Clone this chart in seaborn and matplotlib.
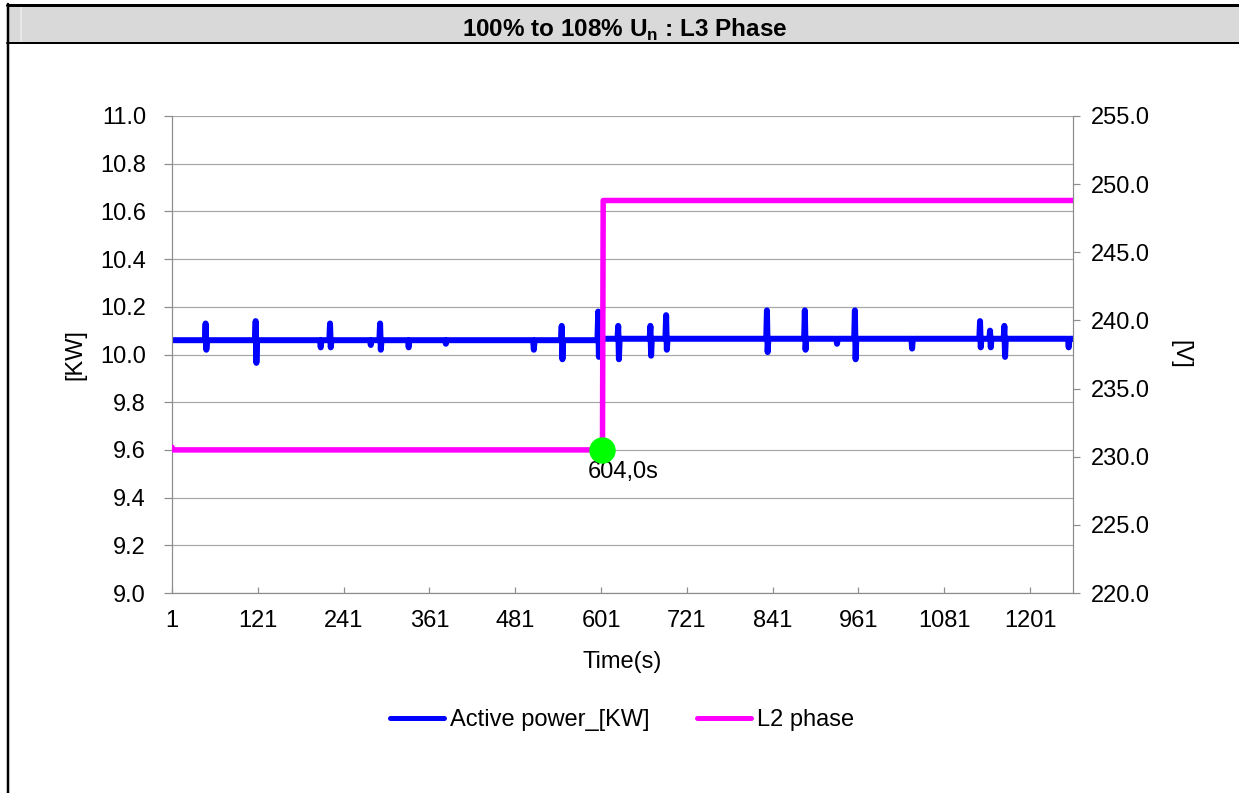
import numpy as np
import pandas as pd
import matplotlib
matplotlib.use("Agg")
import matplotlib.pyplot as plt
import seaborn as sns
from matplotlib.lines import Line2D
from matplotlib.patches import Rectangle

# ---------------- data ----------------
N_SAMPLES = 1261
x_tick_values = [1, 121, 241, 361, 481, 601, 721, 841, 961, 1081, 1201]
left_ticks = [9.0, 9.2, 9.4, 9.6, 9.8, 10.0, 10.2, 10.4, 10.6, 10.8, 11.0]
right_ticks = [220.0, 225.0, 230.0, 235.0, 240.0, 245.0, 250.0, 255.0]

# active power: flat baseline segments (start, end, kW)
power_baseline = [(1, 600, 10.060), (601, 1261, 10.066)]
# short spikes: time, peak value (None = no peak), dip value (None = no dip)
spike_time = [48, 118, 208, 222, 278, 292, 331, 383, 506, 546, 597, 625,
              670, 692, 833, 886, 930, 956, 1035, 1131, 1145, 1165, 1254]
spike_high = [10.13, 10.14, None, 10.13, None, 10.13, None, None, None, 10.12,
              10.18, 10.12, 10.12, 10.165, 10.185, 10.185, None, 10.185, None,
              10.14, 10.10, 10.12, None]
spike_low = [10.02, 9.965, 10.03, 10.03, 10.04, 10.02, 10.03, 10.045, 10.02,
             9.98, 9.99, 9.98, 9.995, 10.02, 10.01, 10.02, 10.045, 9.98, 10.025,
             10.03, 10.03, 9.99, 10.03]

# L2 phase voltage segments (start, end, V)
voltage_segments = [(1, 1, 230.7), (2, 603, 230.5), (604, 1261, 248.8)]
step_time = 604
step_label = "604,0s"

# ---------------- build series ----------------
time_s = np.arange(1, N_SAMPLES + 1)
power = np.zeros(N_SAMPLES)
for s, e, v in power_baseline:
    power[s - 1:e] = v
for t, hi, lo in zip(spike_time, spike_high, spike_low):
    if hi is not None:
        power[t - 1] = hi
    if lo is not None:
        power[t] = lo
voltage = np.zeros(N_SAMPLES)
for s, e, v in voltage_segments:
    voltage[s - 1:e] = v

df = pd.DataFrame({"time": time_s, "power": power, "voltage": voltage})

# ---------------- style ----------------
sns.set_theme(style="white")
plt.rcParams["font.family"] = ["Liberation Sans", "DejaVu Sans"]
plt.rcParams["mathtext.fontset"] = "custom"
plt.rcParams["mathtext.rm"] = "Liberation Sans"
plt.rcParams["mathtext.bf"] = "Liberation Sans:bold"
plt.rcParams["text.color"] = "black"
plt.rcParams["axes.labelcolor"] = "black"
plt.rcParams["xtick.color"] = "black"
plt.rcParams["ytick.color"] = "black"

W, H = 1239, 793
fig = plt.figure(figsize=(W / 100, H / 100), dpi=100)
fig.patch.set_facecolor("white")

ax_l, ax_r, ax_t, ax_b = 172, 1073, 116, 593
ax = fig.add_axes([ax_l / W, 1 - ax_b / H, (ax_r - ax_l) / W, (ax_b - ax_t) / H])
ax2 = ax.twinx()

FS = 17
grid_col = "#a6a6a6"
spine_col = "#8c8c8c"
px = 0.72  # one pixel in points

sns.lineplot(data=df, x="time", y="power", ax=ax, color="#0000ff",
             linewidth=6 * px, legend=False, solid_capstyle="round",
             solid_joinstyle="round")
sns.lineplot(data=df, x="time", y="voltage", ax=ax2, color="#ff00ff",
             linewidth=5.5 * px, legend=False, solid_capstyle="round",
             solid_joinstyle="round")
marker_y = voltage[step_time - 2]
ax2.plot([step_time - 2], [marker_y], marker="o", markersize=18,
         color="#00ff00", linestyle="none", zorder=5)
ax2.annotate(step_label, xy=(step_time - 2, marker_y), xytext=(21, -22),
             textcoords="offset pixels", ha="center", va="center",
             fontsize=FS, color="black")

ax.set_xlim(1, N_SAMPLES)
ax.set_ylim(9.0, 11.0)
ax2.set_ylim(220.0, 255.0)
ax.set_xticks(x_tick_values)
ax.set_xticklabels([str(v) for v in x_tick_values], fontsize=FS)
ax.set_yticks(left_ticks)
ax.set_yticklabels([f"{v:.1f}" for v in left_ticks], fontsize=FS)
ax2.set_yticks(right_ticks)
ax2.set_yticklabels([f"{v:.1f}" for v in right_ticks], fontsize=FS)

ax.yaxis.grid(True, color=grid_col, linewidth=1.2 * px)
ax.xaxis.grid(False)
ax2.grid(False)
ax.set_axisbelow(True)

for a in (ax, ax2):
    a.spines["top"].set_visible(False)
    for sp in ("left", "right", "bottom"):
        a.spines[sp].set_color(spine_col)
        a.spines[sp].set_linewidth(1.2 * px)
ax.spines["right"].set_visible(False)
ax2.spines["left"].set_visible(False)
ax2.spines["bottom"].set_visible(False)

ax.tick_params(axis="y", direction="out", length=8 * px, width=1.2 * px,
               color=spine_col, pad=13, labelcolor="black", left=True)
ax.tick_params(axis="x", direction="in", length=6 * px, width=1.2 * px,
               color=spine_col, pad=12, labelcolor="black", bottom=True)
ax2.tick_params(axis="y", direction="out", length=7 * px, width=1.2 * px,
                color=spine_col, pad=8, labelcolor="black", right=True)

ax.set_xlabel("Time(s)", fontsize=FS, color="black")
ax.xaxis.set_label_coords((622 - 172) / 901, (593 - 662) / 477)
ax.xaxis.label.set_verticalalignment("center")
ax.set_ylabel("[KW]", fontsize=FS, color="black")
ax.yaxis.set_label_coords((75 - 172) / 901, 0.5)
ax.yaxis.label.set_verticalalignment("center")
ax2.set_ylabel("[V]", fontsize=FS, rotation=270, color="black")
ax2.yaxis.set_label_coords((1180 - 172) / 901, 0.5)
ax2.yaxis.label.set_verticalalignment("center")

# legend
h1 = Line2D([], [], color="#0000ff", linewidth=5 * px, solid_capstyle="round")
h2 = Line2D([], [], color="#ff00ff", linewidth=5 * px, solid_capstyle="round")
leg = fig.legend([h1, h2], ["Active power_[KW]", "L2 phase"], loc="center",
                 bbox_to_anchor=(622 / W, 1 - 720 / H), ncol=2, frameon=False,
                 fontsize=FS, handlelength=2.3, handletextpad=0.25,
                 columnspacing=2.0)
for t in leg.get_texts():
    t.set_color("black")

# title band and outer border (Excel-style cell)
fig.patches.append(Rectangle((8 / W, 1 - 43 / H), 1 - 8 / W, 38 / H,
                             transform=fig.transFigure, facecolor="#d9d9d9",
                             edgecolor="none", zorder=0))
fig.lines.append(Line2D([21 / W, 21 / W], [1 - 43 / H, 1 - 6 / H],
                        transform=fig.transFigure, color="#eeeeee", lw=1.5 * px))
fig.lines.append(Line2D([7 / W, 1], [1 - 5 / H, 1 - 5 / H],
                        transform=fig.transFigure, color="black", lw=3 * px))
fig.lines.append(Line2D([7 / W, 1], [1 - 43 / H, 1 - 43 / H],
                        transform=fig.transFigure, color="black", lw=2 * px))
fig.lines.append(Line2D([7.5 / W, 7.5 / W], [0, 1 - 4 / H],
                        transform=fig.transFigure, color="black", lw=2.5 * px))
fig.text(625 / W, 1 - 30 / H, r"100% to 108% U$_\mathbf{n}$ : L3 Phase",
         ha="center", va="center", fontsize=17.5, fontweight="bold",
         color="black")

fig.savefig("out.png", dpi=100)
